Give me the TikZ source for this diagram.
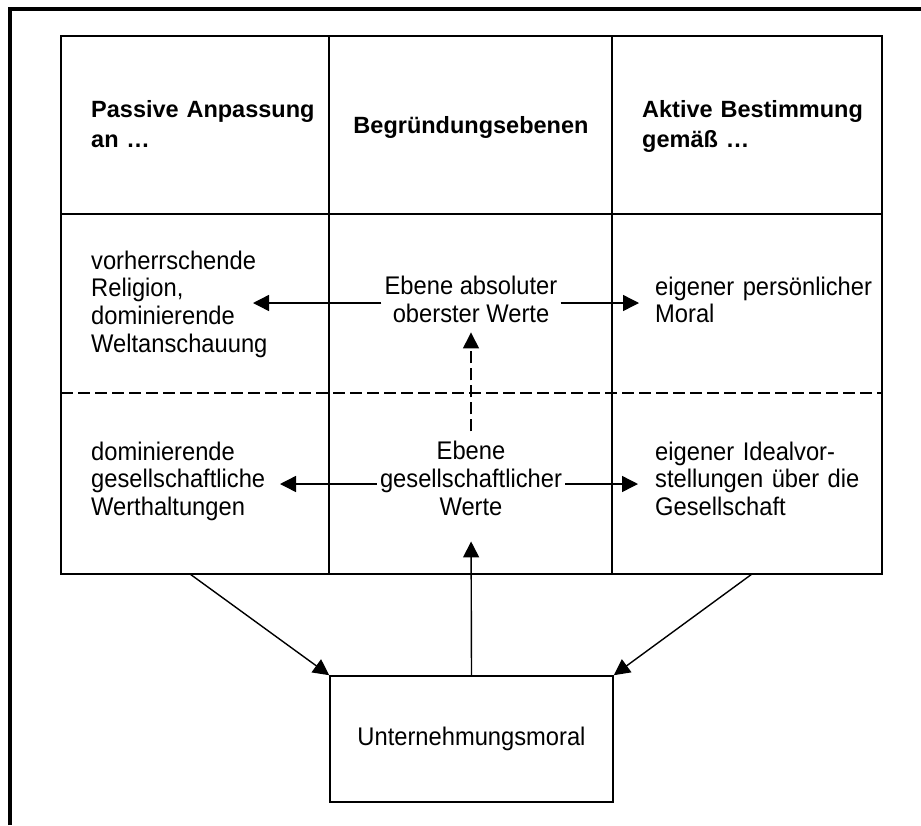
\documentclass[tikz,border=0pt]{standalone}
\usepackage{fontspec}
\setmainfont{Liberation Sans}
\newfontfamily\txtfont{Liberation Sans}[FakeStretch=0.93]
\usetikzlibrary{arrows.meta}
\begin{document}
\begin{tikzpicture}[x=1pt,y=-1pt,
  frame/.style={line width=4pt},
  tbl/.style={line width=1.6pt},
  dashline/.style={dash pattern=on 12pt off 5pt},
  arr/.style={line width=1.4pt,-{Triangle[length=16pt,width=16pt]}},
  head/.style={inner sep=0pt,font=\bfseries\fontsize{23.5pt}{30pt}\selectfont},
  cell/.style={inner sep=0pt,anchor=base west,text width=230pt,align=left,
    font=\txtfont\fontsize{25.5pt}{27.7pt}\selectfont},
  mid/.style={inner sep=3pt,anchor=base,align=center,
    font=\txtfont\fontsize{25.5pt}{27.7pt}\selectfont},
  box/.style={draw,tbl,minimum width=283pt,minimum height=126pt,inner sep=0pt,
    font=\txtfont\fontsize{25.5pt}{27.7pt}\selectfont}]

% canvas and outer frame
\fill[white] (0,0) rectangle (921,825);
\useasboundingbox (0,0) rectangle (921,825);
\draw[frame] (9.5,825) -- (9.5,8.5) -- (921,8.5);

% table grid
\draw[tbl] (61,36) rectangle (882,574);
\draw[tbl] (329,36) -- (329,574);
\draw[tbl] (612,36) -- (612,574);
\draw[tbl] (61,214) -- (882,214);
\draw[tbl,dashline] (61,393) -- (882,393);

% header row
\node[head,anchor=base west,text width=240pt,align=left] (h1) at (91,117) {Passive Anpassung\\an \dots};
\node[head,anchor=base] (h2) at (471,133) {Begründungsebenen};
\node[head,anchor=base west,text width=240pt,align=left] (h3) at (642,117) {Aktive Bestimmung\\gemäß \dots};

% upper level (middle nodes are placed by the baseline of their last line)
\node[cell] (l2) at (91,269) {vorherrschende\\Religion,\\dominierende\\Weltanschauung};
\node[mid] (m2) at (471,322) {Ebene absoluter\\oberster Werte};
\node[cell] (r2) at (655,295) {eigener persönlicher\\Moral};

% lower level
\node[cell] (l3) at (91,460) {dominierende\\gesellschaftliche\\Werthaltungen};
\node[mid] (m3) at (471,515) {Ebene\\gesellschaftlicher\\Werte};
\node[cell] (r3) at (655,460) {eigener Idealvor-\\stellungen über die\\Gesellschaft};

% bottom box
\node[box] (um) at (471.5,739) {Unternehmungsmoral};

% arrow end points
\coordinate (t2l) at (253,303);
\coordinate (t2r) at (639,303);
\coordinate (t3l) at (280,484);
\coordinate (t3r) at (638,484);
\coordinate (bl) at (190,574);
\coordinate (br) at (752,574);

% connectors
\draw[arr] (m2.west |- t2l) -- (t2l);
\draw[arr] (m2.east |- t2r) -- (t2r);
\draw[arr] (m3.west |- t3l) -- (t3l);
\draw[arr] (m3.east |- t3r) -- (t3r);
\draw[arr,dashline,shorten <=6.5pt,shorten >=7pt] (m3.north) -- (m2.south);
\draw[arr,shorten >=23pt] (um.north) -- (m3.south);
\draw[arr] (bl) -- (um.north west);
\draw[arr] (br) -- (um.north east);
\end{tikzpicture}
\end{document}
